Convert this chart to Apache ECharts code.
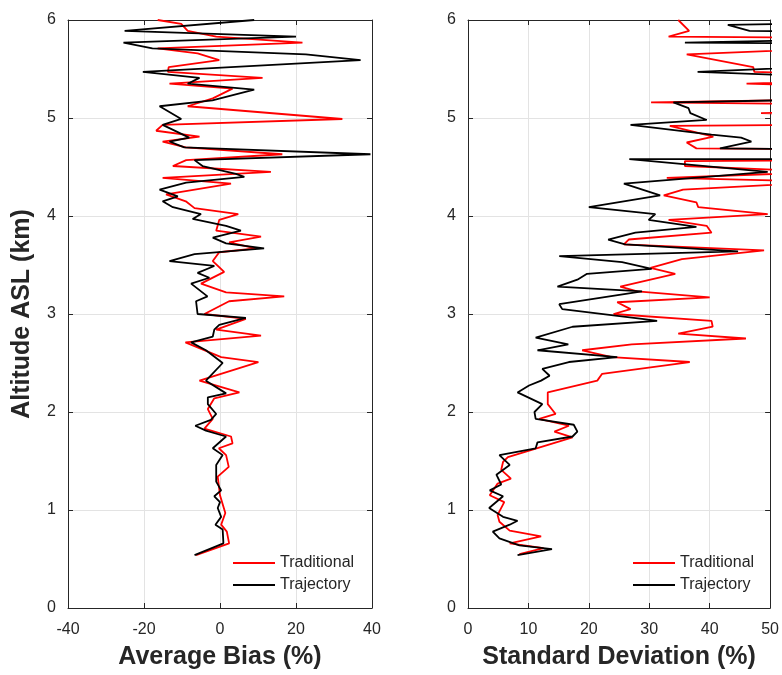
<!DOCTYPE html>
<html>
<head>
<meta charset="utf-8">
<script src="https://cdn.jsdelivr.net/npm/echarts@6/dist/echarts.min.js"></script>
<style>
  html, body { margin: 0; padding: 0; background: #fff; }
  #chart { width: 782px; height: 675px; }
</style>
</head>
<body>
<div id="chart"></div>
<script>
// [value, altitude km]
var biasTraditional = [[-16.4,6.0],[-10.2,5.96],[-8.5,5.89],[-1,5.83],[21.7,5.77],[-16.4,5.71],[-5.9,5.66],[-0.2,5.59],[-13.5,5.52],[-13.7,5.47],[11.2,5.41],[-13.3,5.35],[3.3,5.30],[-1.9,5.20],[-8.5,5.12],[32.2,4.99],[-15.1,4.93],[-16.8,4.87],[-5.4,4.81],[-15.1,4.76],[-9,4.70],[16.4,4.63],[-8.9,4.57],[-12.4,4.51],[13.4,4.45],[-15.1,4.39],[2.9,4.33],[-14.2,4.22],[-9,4.15],[-6.7,4.08],[4.8,4.02],[-0.2,3.96],[-1,3.85],[10.8,3.79],[2.4,3.73],[9.4,3.67],[-0.2,3.63],[-1.9,3.54],[1.1,3.43],[-5.0,3.31],[1.6,3.22],[16.9,3.18],[2.4,3.13],[-4.1,3.0],[6.8,2.95],[-1,2.84],[10.8,2.78],[-9.1,2.71],[0.3,2.56],[10.1,2.51],[-5.4,2.32],[5.1,2.20],[-1.5,2.14],[-3.2,2.03],[-1.9,1.93],[-4.1,1.83],[2.9,1.75],[3.3,1.68],[-0.3,1.63],[1.6,1.56],[2.3,1.44],[-0.6,1.34],[0,1.15],[1.4,0.97],[0.3,0.85],[1.8,0.78],[2.4,0.66],[-6.3,0.54]];
var biasTrajectory = [[9.0,6.0],[-25.1,5.89],[20,5.83],[-25.4,5.77],[-17.8,5.71],[22.6,5.65],[37,5.59],[-20.3,5.47],[-5.4,5.41],[-8.5,5.35],[9.0,5.29],[-2,5.18],[-15.9,5.12],[-10.2,4.99],[-15.1,4.93],[-8.1,4.80],[-13.3,4.76],[-9.4,4.70],[39.6,4.63],[-6.7,4.57],[-4.6,4.51],[4.2,4.43],[6.4,4.40],[-8.9,4.34],[-15.9,4.27],[-11.1,4.20],[-15.1,4.15],[-12.4,4.09],[-5.0,4.02],[-7.2,3.97],[1.6,3.90],[5.5,3.85],[-1.9,3.78],[1.6,3.72],[11.6,3.67],[-6.7,3.61],[-13.3,3.54],[-1.5,3.49],[-5.9,3.42],[-2.8,3.37],[-7.6,3.31],[-3.3,3.18],[-6.3,3.13],[-5.9,3.0],[6.8,2.96],[-0.2,2.89],[-1.5,2.84],[-1.9,2.77],[-7.6,2.71],[-3.7,2.63],[0.7,2.50],[-3.7,2.32],[1.6,2.19],[-3.2,2.15],[-3.2,2.08],[-1,1.98],[-2.4,1.92],[-6.5,1.86],[-3.7,1.81],[1.6,1.75],[-1.9,1.63],[0.7,1.56],[-1,1.46],[-1,1.29],[0.3,1.20],[-1.5,1.14],[0,1.08],[-0.6,1.02],[0.3,0.93],[-1.2,0.85],[0.7,0.80],[0.9,0.66],[-6.7,0.54]];
var sdTraditional = [[34.8,6.0],[36.6,5.89],[33.2,5.83],[60,5.82],[60,5.71],[36.2,5.65],[47.2,5.52],[47.4,5.47],[60,5.45],[60,5.38],[46.1,5.35],[60,5.33],[60,5.19],[30.3,5.16],[60,5.14],[60,5.07],[48.5,5.05],[60,5.03],[60,4.93],[33.4,4.92],[40.6,4.81],[36.2,4.75],[37.8,4.69],[60,4.68],[60,4.57],[35.9,4.56],[35.9,4.51],[60,4.45],[32.9,4.39],[60,4.35],[35.6,4.27],[32.4,4.21],[37.8,4.14],[38.1,4.09],[49.6,4.02],[33.2,3.96],[39.5,3.90],[40.3,3.83],[26.6,3.76],[25.8,3.71],[49,3.65],[35.4,3.56],[30.2,3.47],[34.3,3.41],[25.2,3.28],[28,3.23],[40,3.17],[24.7,3.12],[26.9,3.05],[24.1,3.0],[40.3,2.93],[40.5,2.87],[34.8,2.80],[46,2.75],[27.1,2.69],[18.9,2.63],[23.8,2.56],[36.7,2.51],[22.2,2.39],[21.4,2.32],[13.2,2.20],[13.2,2.08],[14.5,1.98],[11.8,1.93],[16.7,1.86],[14.3,1.80],[17.3,1.74],[10.4,1.61],[6.6,1.54],[5.8,1.49],[5.5,1.41],[7.1,1.32],[4.9,1.27],[3.6,1.15],[6,1.08],[4.9,0.95],[5.2,0.88],[6.9,0.79],[12.1,0.73],[6.9,0.66],[12.5,0.61],[8.5,0.55]];
var sdTrajectory = [[60,5.97],[43,5.95],[46.6,5.89],[60,5.88],[60,5.80],[35.9,5.77],[60,5.76],[60,5.53],[38,5.47],[60,5.42],[60,5.19],[34.0,5.16],[36.5,5.10],[36.8,5.05],[39.5,4.98],[26.9,4.93],[40.3,4.83],[45.2,4.80],[46.9,4.76],[41.7,4.69],[60,4.68],[60,4.58],[26.7,4.58],[49.6,4.45],[25.8,4.33],[31.8,4.21],[20,4.09],[31,4.02],[29.9,3.96],[37.8,3.89],[27.7,3.83],[23.2,3.76],[26,3.71],[44.7,3.64],[15.1,3.59],[25.5,3.53],[30.4,3.46],[19.7,3.41],[18.1,3.35],[14.8,3.28],[28.8,3.23],[15.1,3.10],[15.6,3.05],[28.8,2.95],[31.3,2.93],[17.3,2.87],[11.2,2.76],[16.6,2.69],[11.5,2.63],[24.7,2.56],[16.7,2.51],[12.3,2.44],[13.5,2.37],[12.1,2.32],[10.1,2.27],[8.2,2.20],[12.3,2.08],[11,2.0],[11.2,1.93],[17.5,1.87],[18.1,1.80],[17.3,1.75],[11.5,1.69],[11.2,1.63],[5.2,1.56],[6.9,1.46],[4.7,1.36],[5.5,1.26],[3.6,1.20],[5.8,1.14],[3.5,1.02],[5.8,0.93],[8.2,0.89],[6.9,0.85],[4.1,0.78],[5.2,0.71],[8.5,0.64],[13.9,0.60],[8.2,0.54]];

var seriesNames = ['Traditional', 'Trajectory'];
var seriesColors = ['#ff0000', '#000000'];

var myChart = echarts.init(document.getElementById('chart'));

var axisColor = '#262626';
var gridColor = '#e3e3e3';
var font = 'Liberation Sans';

function bottomX(idx, min, max, interval, name) {
    return {
        type: 'value', gridIndex: idx, position: 'bottom',
        min: min, max: max, interval: interval,
        name: name, nameLocation: 'middle', nameGap: 37,
        nameTextStyle: { fontSize: 25, fontWeight: 'bold', color: axisColor, fontFamily: font },
        axisLine: { onZero: false, lineStyle: { color: axisColor, width: 1 } },
        axisTick: { inside: true, length: 5, lineStyle: { color: axisColor } },
        axisLabel: { fontSize: 16, color: axisColor, margin: 14, fontFamily: font },
        splitLine: { show: true, lineStyle: { color: gridColor, width: 1 } }
    };
}

function topX(idx, min, max, interval) {
    return {
        type: 'value', gridIndex: idx, position: 'top',
        min: min, max: max, interval: interval,
        axisLine: { onZero: false, lineStyle: { color: axisColor, width: 1 } },
        axisTick: { inside: true, length: 5, lineStyle: { color: axisColor } },
        axisLabel: { show: false },
        splitLine: { show: false }
    };
}

function leftY(idx, name) {
    return {
        type: 'value', gridIndex: idx, position: 'left',
        min: 0, max: 6, interval: 1,
        name: name, nameLocation: 'middle', nameGap: 33,
        nameTextStyle: { fontSize: 25, fontWeight: 'bold', color: axisColor, fontFamily: font },
        axisLine: { onZero: false, lineStyle: { color: axisColor, width: 1 } },
        axisTick: { inside: true, length: 5, lineStyle: { color: axisColor } },
        axisLabel: { fontSize: 16, color: axisColor, margin: 12, fontFamily: font },
        splitLine: { show: true, lineStyle: { color: gridColor, width: 1 } }
    };
}

function rightY(idx) {
    return {
        type: 'value', gridIndex: idx, position: 'right',
        min: 0, max: 6, interval: 1,
        axisLine: { onZero: false, lineStyle: { color: axisColor, width: 1 } },
        axisTick: { inside: true, length: 5, lineStyle: { color: axisColor } },
        axisLabel: { show: false },
        splitLine: { show: false }
    };
}

function profile(name, color, xIdx, yIdx, data) {
    return {
        name: name, type: 'line',
        xAxisIndex: xIdx, yAxisIndex: yIdx,
        data: data, symbol: 'none', clip: true,
        lineStyle: { color: color, width: 1.8 },
        itemStyle: { color: color },
        animation: false
    };
}

var legendStyle = {
    orient: 'vertical', icon: 'rect', itemWidth: 42, itemHeight: 2, itemGap: 4,
    textStyle: { fontSize: 16, color: axisColor, fontFamily: font, lineHeight: 18 }
};

var option = {
    backgroundColor: '#fff',
    animation: false,
    grid: [
        { left: 68, top: 20, width: 304, height: 590 },
        { left: 468, top: 20, width: 304, height: 590 }
    ],
    xAxis: [
        bottomX(0, -40, 40, 20, 'Average Bias (%)'),
        bottomX(1, 0, 50, 10, 'Standard Deviation (%)'),
        topX(0, -40, 40, 20),
        topX(1, 0, 50, 10)
    ],
    yAxis: [
        leftY(0, 'Altitude ASL (km)'),
        leftY(1, ''),
        rightY(0),
        rightY(1)
    ],
    legend: [
        Object.assign({ left: 228, top: 549, data: seriesNames }, legendStyle),
        Object.assign({ left: 628, top: 549, data: seriesNames }, legendStyle)
    ],
    series: [
        profile(seriesNames[0], seriesColors[0], 0, 0, biasTraditional),
        profile(seriesNames[1], seriesColors[1], 0, 0, biasTrajectory),
        profile(seriesNames[0], seriesColors[0], 1, 1, sdTraditional),
        profile(seriesNames[1], seriesColors[1], 1, 1, sdTrajectory)
    ]
};

myChart.setOption(option);
</script>
</body>
</html>
